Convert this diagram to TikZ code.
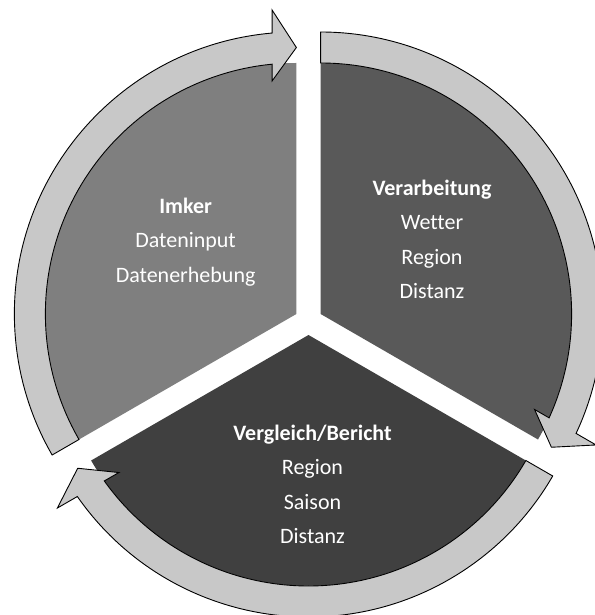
\documentclass[tikz,border=0pt]{standalone}
\usepackage{fontspec}
\setmainfont{Carlito}[Ligatures=NoCommon]
\definecolor{segA}{RGB}{127,127,127}
\definecolor{segB}{RGB}{89,89,89}
\definecolor{segC}{RGB}{64,64,64}
\definecolor{arrowfill}{RGB}{200,200,200}
\begin{document}
\begin{tikzpicture}[x=1pt,y=1pt,line join=round]
	\tikzset{cyclearrow/.style={fill=arrowfill,draw=black,line width=0.9pt,line join=miter},
		segtext/.style={text=white,align=center,font=\fontsize{22}{34.5}\selectfont}}
	\useasboundingbox (-308.5,-294) rectangle (285.5,321);
	\foreach \rot/\col in {0/segA,-120/segB,120/segC}
	\fill[\col,shift={(150+\rot:14)},rotate=\rot] (0,0) -- (90:251) arc[start angle=90,end angle=210,radius=251] -- cycle;
	\foreach \rot in {0,-120,120}
	\draw[cyclearrow,shift={(150+\rot:14)},rotate=\rot] (210:251) arc[start angle=210,end angle=95.556,radius=251]
		-- (-24.3,233) -- (0,266.5) -- (-24.3,304) -- (94.943:282) arc[start angle=94.943,end angle=210,radius=282] -- cycle;
	\node[segtext] (imker) at (-122.9,79) {\textbf{Imker}\\Dateninput\\Datenerhebung};
	\node[segtext] (verarb) at (123.5,81.5) {\textbf{Verarbeitung}\\Wetter\\Region\\Distanz};
	\node[segtext] (vergl) at (4,-163.5) {\textbf{Vergleich/Bericht}\\Region\\Saison\\Distanz};
\end{tikzpicture}
\end{document}
